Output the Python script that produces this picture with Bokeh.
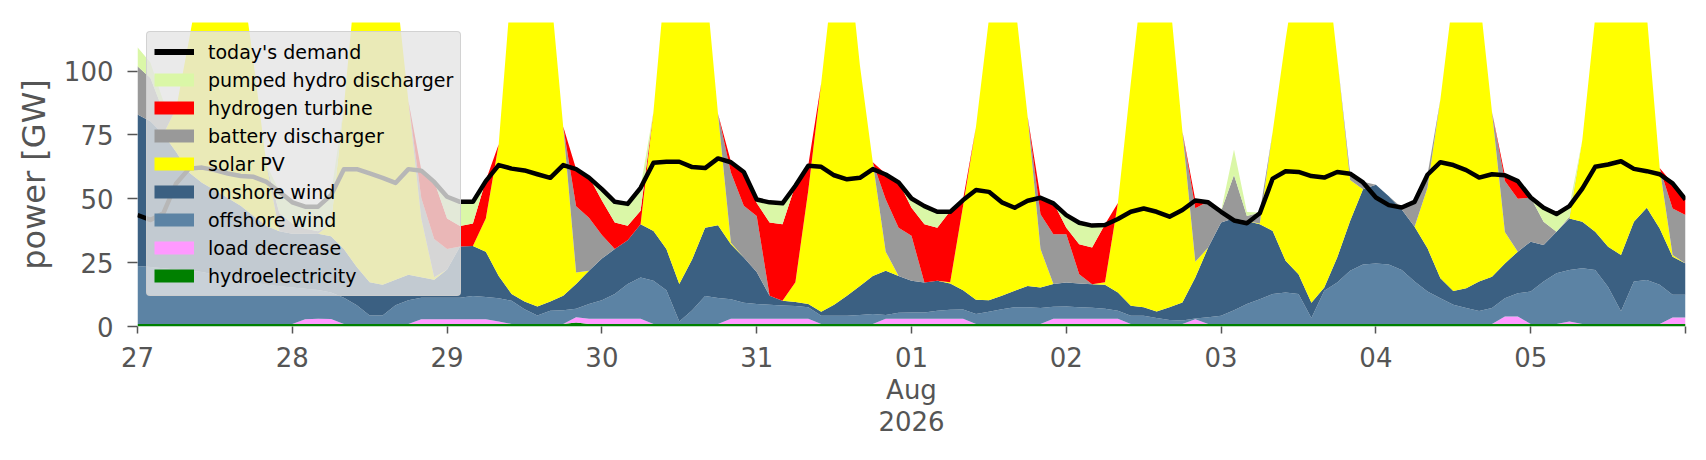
from bokeh.plotting import figure
from bokeh.models import ColumnDataSource, Range1d, FixedTicker, Legend, LegendItem
from bokeh.embed import file_html
from bokeh.resources import INLINE

# hours since 27 Jul 2026 00:00, every 2 hours
hours = list(range(0, 241, 2))

hydroelectricity = [
    1.0, 1.0, 1.0, 1.0, 1.0, 1.0, 1.0, 1.0, 1.0, 1.0, 1.0, 1.0,
    1.0, 1.0, 1.0, 1.0, 1.0, 1.0, 1.0, 1.0, 1.0, 1.0, 1.0, 1.0,
    1.0, 1.0, 1.0, 1.0, 1.0, 1.0, 1.0, 1.0, 1.0, 1.0, 1.6, 1.0,
    1.0, 1.0, 1.0, 1.0, 1.0, 1.0, 1.0, 1.0, 1.0, 1.0, 1.0, 1.0,
    1.0, 1.0, 1.0, 1.0, 1.0, 1.0, 1.0, 1.0, 1.0, 1.0, 1.0, 1.0,
    1.0, 1.0, 1.0, 1.0, 1.0, 1.0, 1.0, 1.0, 1.0, 1.0, 1.0, 1.0,
    1.0, 1.0, 1.0, 1.0, 1.0, 1.0, 1.0, 1.0, 1.0, 1.0, 1.0, 1.0,
    1.0, 1.0, 1.0, 1.0, 1.0, 1.0, 1.0, 1.0, 1.0, 1.0, 1.0, 1.0,
    1.0, 1.0, 1.0, 1.0, 1.0, 1.0, 1.0, 1.0, 1.0, 1.0, 1.0, 1.0,
    1.0, 1.0, 1.0, 1.0, 1.0, 1.0, 1.0, 1.0, 1.0, 1.0, 1.0, 1.0,
    1.0]

load_decrease = [
    0, 0, 0, 0, 0, 0, 0, 0, 0, 0, 0, 0,
    0, 1.8, 2.0, 1.9, 0, 0, 0, 0, 0, 0, 1.8, 1.8,
    1.8, 1.8, 1.8, 1.8, 1.0, 0, 0, 0, 0, 0, 2.0, 2.0,
    2.0, 2.0, 2.0, 2.0, 0, 0, 0, 0, 0, 0, 2.0, 2.0,
    2.0, 2.0, 2.0, 2.0, 2.0, 0, 0, 0, 0, 0, 2.0, 2.0,
    2.0, 2.0, 2.0, 2.0, 2.0, 0, 0, 0, 0, 0, 0, 2.0,
    2.0, 2.0, 2.0, 2.0, 2.0, 0, 0, 0, 0, 0, 1.8, 0,
    0, 0, 0, 0, 0, 0, 0, 0, 0, 0, 0, 0,
    0, 0, 0, 0, 0, 0, 0, 0, 0, 0, 2.9, 2.9,
    0, 0, 0, 1.0, 0, 0, 0, 0, 0, 0, 0, 2.5,
    2.5]

offshore_wind = [
    22.7, 22.3, 21.8, 21.3, 20.8, 20.3, 19.3, 18.3, 17.3, 16.3, 15.3, 14.8,
    14.3, 12.0, 11.3, 10.4, 10.3, 7.3, 3.3, 3.3, 7.3, 9.3, 8.5, 8.5,
    8.5, 8.5, 9.1, 8.7, 9.1, 9.1, 5.8, 3.3, 5.2, 5.4, 3.3, 5.8,
    7.3, 9.7, 13.6, 16.2, 16.9, 13.2, 1.0, 5.4, 10.9, 10.2, 7.7, 6.3,
    5.8, 5.5, 5.2, 5.0, 4.5, 3.2, 3.2, 3.2, 3.5, 3.9, 1.5, 2.4,
    2.5, 2.5, 3.2, 3.6, 3.7, 3.9, 4.8, 5.8, 6.5, 6.5, 6.2, 4.7,
    4.8, 4.5, 4.3, 3.9, 3.2, 3.2, 3.2, 2.3, 1.5, 1.3, 0.3, 2.6,
    3.2, 5.4, 7.8, 9.7, 11.7, 12.3, 11.7, 2.3, 13.0, 16.2, 20.8, 23.3,
    23.7, 23.3, 21.1, 16.6, 12.7, 10.1, 7.5, 6.2, 5.1, 6.2, 7.2, 9.1,
    12.7, 16.6, 19.8, 20.1, 21.8, 21.1, 14.5, 5.0, 16.6, 17.2, 15.3, 8.9,
    8.9]

onshore_wind = [
    59.3, 57.0, 52.5, 46.0, 38.5, 35.0, 33.0, 31.0, 29.0, 26.0, 23.0, 21.5,
    21.0, 21.5, 22.0, 22.0, 19.0, 15.0, 13.0, 12.0, 10.0, 10.0, 8.0, 7.0,
    11.0, 20.0, 19.6, 17.8, 8.7, 2.6, 3.0, 3.5, 3.6, 5.6, 9.7, 13.0,
    16.3, 17.6, 17.2, 20.8, 19.5, 16.1, 14.6, 19.9, 26.8, 28.4, 21.5, 17.7,
    12.5, 3.5, 1.9, 1.6, 1.3, 1.6, 4.3, 7.8, 11.4, 14.9, 17.3, 14.4,
    12.4, 11.7, 11.7, 10.2, 7.5, 5.6, 4.5, 5.2, 6.5, 8.4, 8.1, 8.9,
    9.4, 9.3, 9.2, 9.4, 7.1, 3.9, 3.3, 2.6, 5.0, 7.1, 16.1, 27.3,
    36.5, 36.0, 32.5, 29.3, 24.7, 12.4, 7.8, 6.0, 1.3, 9.8, 19.5, 29.4,
    30.8, 26.7, 23.7, 21.4, 16.9, 7.8, 5.4, 7.8, 11.5, 12.3, 13.6, 16.3,
    19.5, 14.3, 16.3, 20.2, 18.2, 15.0, 15.7, 22.0, 23.4, 28.3, 22.1, 14.9,
    12.3]

solar_pv = [
    0, 0, 0, 17, 52, 84, 102, 105, 93, 60, 24, 0,
    0, 0, 0, 5, 56, 117, 138, 139, 117, 68, 23, 1,
    0, 0, 0, 13, 51.5, 122.6, 140.5, 147.5, 123.5, 66.3, 4.5, 0,
    0, 0, 0, 0, 46.9, 110, 138.7, 129, 99.6, 43.7, 0.6, 0,
    0, 0, 0, 7.7, 44.5, 89.5, 131.8, 138.3, 86.4, 44.5, 7.5, 0,
    0, 0, 0, 0.5, 33.1, 67.8, 110, 133.3, 114.3, 66.4, 15, 0,
    0, 0, 0, 1, 35, 87.2, 132.8, 144.4, 122.8, 66.9, 6.1, 0,
    0, 0, 0, 0.3, 38.9, 86.6, 124.8, 141, 135, 78.3, 16, 0,
    0, 0, 0, 0, 23.7, 70.1, 116.1, 135, 113.4, 64.5, 12.3, 0,
    0, 0, 0, 0, 32, 83.9, 113.8, 122, 109, 75.5, 23.6, 0.7,
    0]

battery_discharger = [
    18.9, 17, 9, 0, 0, 0, 0, 0, 0, 0, 0, 7,
    4, 2, 1, 0, 0, 0, 0, 0, 0, 0, 8, 15,
    8, 0, 0, 0, 0, 0, 0, 0, 0, 0, 26, 20.8,
    9.2, 0, 0, 0, 0, 0, 0, 0, 0, 0, 27.5, 20.3,
    22, 0, 0, 0, 0, 0, 0, 0, 0, 0, 20.5, 18.9,
    17.6, 0, 0, 0, 0, 0, 0, 0, 0, 0, 13.6, 19.5,
    18.9, 3.7, 0, 0, 0, 0, 0, 0, 0, 0, 21, 18,
    4.5, 16.9, 2, 4.3, 0, 0, 0, 0, 0, 0, 2.8, 3,
    0, 0, 0.8, 9.8, 5.1, 0, 0, 0, 0, 0, 20, 20.7,
    17.3, 9.1, 0, 0.7, 0, 0, 0, 0, 0, 0, 0, 18.2,
    18.9]

hydrogen_turbine = [
    0, 0, 0, 0, 0, 0, 0, 0, 0, 0, 0, 0,
    0, 0, 0, 0, 0, 0, 0, 0, 0, 0, 11, 22.6,
    12, 8, 8.8, 14.9, 0, 0, 0, 0, 0, 0, 14.6, 16,
    13.5, 10.4, 5.6, 5.3, 0, 0, 0, 0, 0, 0, 4.3, 13.5,
    5, 28.7, 29.9, 38.1, 9.9, 0, 0, 0, 0, 0, 10, 18,
    11, 22.8, 20.8, 27.9, 2.5, 0, 0, 0, 0, 0, 6.8, 12.4,
    2.6, 11.7, 14.4, 22.7, 0, 0, 0, 0, 0, 0, 3.3, 0,
    0, 0, 0, 0, 0, 0, 0, 0, 0, 0, 0, 0,
    0, 0, 0, 0, 0, 0, 0, 0, 0, 0, 2.2, 6.9,
    0, 0, 0, 0, 0, 0, 0, 0, 0, 0, 0, 9.8,
    6.1]

pumped_hydro_discharger = [
    7.4, 6, 4, 0, 0, 0, 0, 0, 0, 0, 0, 8.7,
    8.6, 8.9, 9.9, 11.4, 0, 0, 0, 0, 0, 0, 0, 0,
    8.8, 9.8, 8.8, 0, 0, 0, 0, 0, 0, 0, 0, 0,
    4.8, 8.4, 8.9, 9.3, 0, 0, 0, 0, 0, 0, 0, 0,
    2, 8.2, 8.5, 0, 0, 0, 0, 0, 0, 0, 0, 0,
    3.9, 7.4, 6.5, 0, 0, 0, 0, 0, 0, 0, 0, 0,
    5.2, 8.7, 8.9, 0, 0, 0, 0, 0, 0, 0, 0, 0,
    0, 10, 1.5, 0, 0, 0, 0, 0, 0, 0, 0, 0,
    0, 0, 0, 0, 0, 0, 0, 0, 0, 0, 0, 0,
    0, 5.5, 6.9, 4.1, 0, 0, 0, 0, 0, 0, 0, 0,
    0]

todays_demand = [
    43.6, 41.7, 44.3, 56.0, 61.8, 62.2, 61.2, 59.9, 58.9, 58.6, 56.6, 52.7,
    48.6, 46.9, 46.9, 51.4, 61.6, 61.6, 59.9, 58.2, 56.2, 61.6, 61.0, 56.6,
    50.8, 48.8, 48.8, 56.9, 63.2, 61.8, 61.1, 59.6, 58.2, 63.2, 61.6, 58.3,
    53.8, 48.8, 48.0, 54.3, 64.1, 64.5, 64.5, 62.4, 62.0, 65.8, 64.3, 60.5,
    49.7, 48.6, 48.2, 55.1, 62.9, 62.5, 59.2, 57.6, 58.2, 61.6, 59.5, 56.4,
    50.1, 47.1, 44.9, 44.9, 49.5, 53.4, 52.7, 48.6, 46.5, 49.2, 50.4, 48.2,
    43.6, 40.6, 39.5, 39.7, 42.1, 44.9, 46.2, 44.9, 43.0, 45.6, 49.3, 48.6,
    44.9, 41.5, 40.4, 44.3, 57.9, 60.8, 60.5, 58.9, 58.3, 60.5, 59.8, 56.4,
    50.5, 47.5, 46.6, 48.8, 59.4, 64.3, 63.2, 61.2, 58.3, 59.6, 59.2, 56.9,
    50.5, 46.5, 44.0, 47.1, 54.0, 62.5, 63.4, 64.7, 61.7, 60.8, 59.6, 56.0,
    49.7]

tick_hours = [0, 24, 48, 72, 96, 120, 144, 168, 192, 216, 240]
tick_labels = ["27", "28", "29", "30", "31", "01\nAug\n2026", "02", "03", "04", "05", ""]
y_ticks = [0, 25, 50, 75, 100]

series_keys = ["hydro", "load", "offwind", "onwind", "solar", "battery", "h2", "phs"]
series_labels = ["hydroelectricity", "load decrease", "offshore wind", "onshore wind",
                 "solar PV", "battery discharger", "hydrogen turbine", "pumped hydro discharger"]
series_colors = ["#008000", "#FF99FF", "#5C83A4", "#3B6082",
                 "#FFFF00", "#999999", "#FF0000", "#DAF7A7"]

src = ColumnDataSource(dict(
    h=hours, hydro=hydroelectricity, load=load_decrease, offwind=offshore_wind,
    onwind=onshore_wind, solar=solar_pv, battery=battery_discharger,
    h2=hydrogen_turbine, phs=pumped_hydro_discharger, demand=todays_demand))

p = figure(width=1698, height=452, output_backend="svg", toolbar_location=None,
           x_range=Range1d(0, 240), y_range=Range1d(0, 119),
           min_border_left=137, min_border_right=13, min_border_top=22, min_border_bottom=126,
           background_fill_color="white", border_fill_color="white", outline_line_color=None)
p.grid.visible = False

p.varea_stack(stackers=series_keys, x="h", color=series_colors, source=src)
p.line("h", "demand", source=src, line_color="black", line_width=4.5, line_join="round")

FONT = "DejaVu Sans"
GREY = "#555555"

for ax in (p.xaxis[0], p.yaxis[0]):
    ax.axis_line_color = None
    ax.major_tick_line_color = GREY
    ax.major_tick_line_width = 1.5
    ax.minor_tick_line_color = None
    ax.major_tick_in = 0
    ax.major_label_text_font = FONT
    ax.major_label_text_font_size = "26px"
    ax.major_label_text_color = GREY

p.xaxis.ticker = FixedTicker(ticks=tick_hours)
p.xaxis.major_label_overrides = {h: lab for h, lab in zip(tick_hours, tick_labels)}
p.xaxis.major_tick_out = 7
p.xaxis.major_label_standoff = 9
p.xaxis.major_label_text_line_height = 1.08

p.yaxis.ticker = FixedTicker(ticks=y_ticks)
p.yaxis.major_tick_out = 10
p.yaxis.major_label_standoff = 14
p.yaxis.axis_label = "power [GW]"
p.yaxis.axis_label_text_font = FONT
p.yaxis.axis_label_text_font_size = "32px"
p.yaxis.axis_label_text_font_style = "normal"
p.yaxis.axis_label_text_color = GREY
p.yaxis.axis_label_standoff = 8

# legend proxies: a single NaN point draws nothing on the plot
NAN = float("nan")
items = [LegendItem(label="today's demand",
                    renderers=[p.line(x=[0], y=[NAN], line_color="black", line_width=6)])]
for lab, col in reversed(list(zip(series_labels, series_colors))):
    r = p.line(x=[0], y=[NAN], line_color=col, line_width=13, line_cap="butt")
    items.append(LegendItem(label=lab, renderers=[r]))

legend = Legend(items=items, location="top_left", margin=9, padding=7,
                spacing=3, glyph_width=40, glyph_height=25, label_height=25,
                label_standoff=14, label_text_font=FONT, label_text_font_size="19px",
                label_text_color="black", background_fill_color="#e5e5e5",
                background_fill_alpha=0.8, border_line_color="#cccccc",
                border_line_alpha=0.8, border_radius=4)
p.add_layout(legend)

open("out.html", "w").write(file_html(p, INLINE))
